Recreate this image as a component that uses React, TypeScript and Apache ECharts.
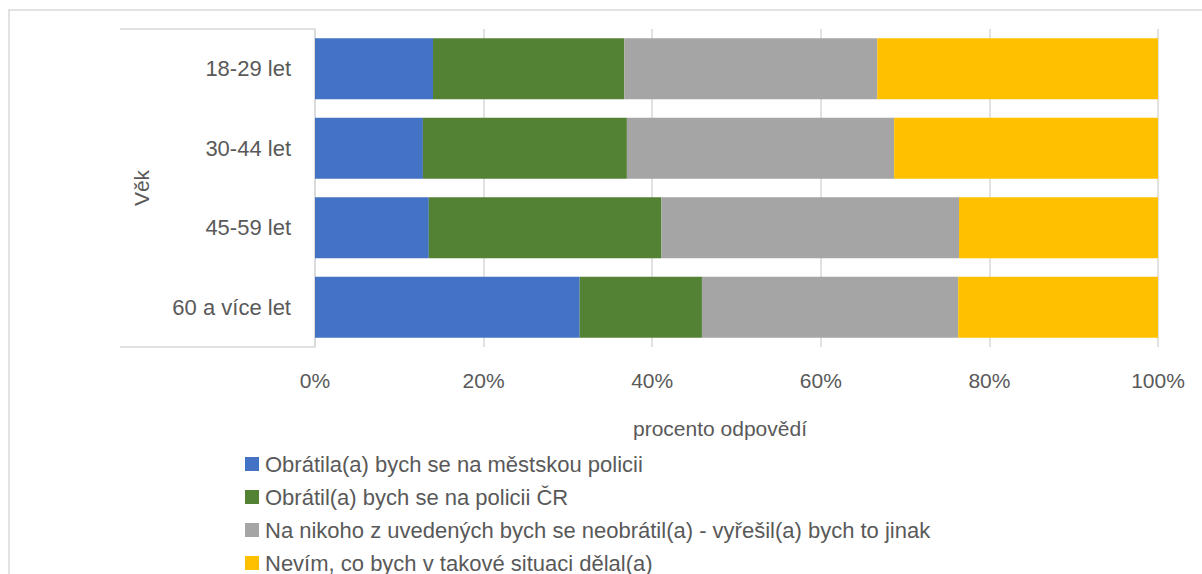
import React, { useEffect, useRef } from "react";
import * as echarts from "echarts";

const categories = ["18-29 let", "30-44 let", "45-59 let", "60 a více let"];
const seriesNames = [
  "Obrátila(a) bych se na městskou policii",
  "Obrátil(a) bych se na policii ČR",
  "Na nikoho z uvedených bych se neobrátil(a) - vyřešil(a) bych to jinak",
  "Nevím, co bych v takové situaci dělal(a)",
];
const cityPolice = [14.0, 12.8, 13.5, 31.4];
const statePolice = [22.7, 24.2, 27.6, 14.5];
const nobody = [30.0, 31.7, 35.3, 30.4];
const dontKnow = [33.3, 31.3, 23.6, 23.7];
const xTicks = [0, 20, 40, 60, 80, 100];
const colors = ["#4472C4", "#548235", "#A5A5A5", "#FFC000"];

const FONT = "'Liberation Sans', Arial, sans-serif";
const TEXT = "#595959";
const LINE = "#D9D9D9";
const FS = 21;

export default function App() {
  const ref = useRef<HTMLDivElement>(null);
  useEffect(() => {
    if (!ref.current) return;
    const chart = echarts.init(ref.current, undefined, { renderer: "svg" });
    const values = [cityPolice, statePolice, nobody, dontKnow];
    chart.setOption({
      animation: false,
      backgroundColor: "#ffffff",
      textStyle: { fontFamily: FONT },
      grid: { left: 315, right: 44, top: 29, bottom: 227, containLabel: false },
      xAxis: {
        type: "value",
        min: 0,
        max: 100,
        interval: 20,
        axisLine: { show: false },
        axisTick: { show: false },
        splitLine: { show: true, lineStyle: { color: LINE, width: 1.5 } },
        axisLabel: {
          color: TEXT,
          fontSize: FS,
          fontFamily: FONT,
          margin: 23,
          formatter: (v: number) => (xTicks.includes(v) ? v + "%" : ""),
        },
      },
      yAxis: {
        type: "category",
        data: categories,
        inverse: true,
        axisLine: { show: true, lineStyle: { color: LINE, width: 1.5 } },
        axisTick: { show: false },
        axisLabel: { color: TEXT, fontSize: 22, fontFamily: FONT, margin: 24 },
        name: "Věk",
        nameLocation: "middle",
        nameGap: 163,
        nameRotate: 90,
        nameTextStyle: { color: TEXT, fontSize: FS, fontFamily: FONT },
      },
      legend: {
        orient: "vertical",
        left: 245,
        top: 453,
        height: 160,
        padding: 0,
        itemWidth: 14,
        itemHeight: 14,
        itemGap: 11,
        icon: "rect",
        textStyle: { color: TEXT, fontSize: 22, fontFamily: FONT, lineHeight: 22, padding: [0, 0, 0, 1] },
        data: seriesNames,
      },
      graphic: [
        {
          type: "rect",
          shape: { x: 9, y: 10, width: 1300, height: 700 },
          style: { fill: "none", stroke: LINE, lineWidth: 1.5 },
          silent: true,
        },
        {
          type: "line",
          shape: { x1: 120, y1: 29, x2: 315, y2: 29 },
          style: { stroke: LINE, lineWidth: 1.5 },
        },
        {
          type: "line",
          shape: { x1: 120, y1: 347, x2: 315, y2: 347 },
          style: { stroke: LINE, lineWidth: 1.5 },
        },
        {
          type: "text",
          x: 720,
          y: 428,
          style: {
            text: "procento odpovědí",
            fill: TEXT,
            font: `${FS}px ${FONT}`,
            textAlign: "center",
            textVerticalAlign: "middle",
          },
        },
      ],
      series: seriesNames.map((name, i) => ({
        name,
        type: "bar",
        stack: "total",
        data: values[i],
        barCategoryGap: "23%",
        itemStyle: { color: colors[i] },
      })),
    });
    return () => chart.dispose();
  }, []);
  return (
    <div
      ref={ref}
      style={{ position: "fixed", left: 0, top: 0, width: 1202, height: 574 }}
    />
  );
}
